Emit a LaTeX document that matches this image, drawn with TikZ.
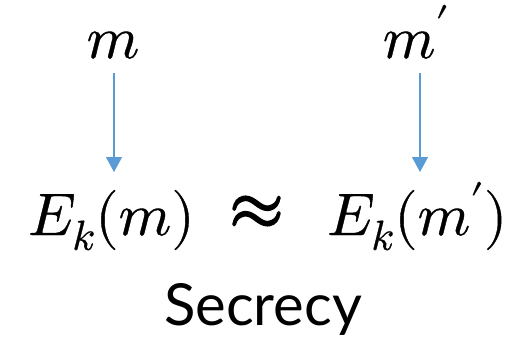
\documentclass[tikz,border=0pt]{standalone}
\usepackage{fontspec}
\usepackage{unicode-math}
\setmathfont[FakeBold=0.6]{Latin Modern Math}
\setmathfont[version=heavy,FakeBold=3]{Latin Modern Math}
\setsansfont{Lato}
\usetikzlibrary{arrows.meta}
\definecolor{arrowblue}{RGB}{91,155,213}
\begin{document}
\begin{tikzpicture}[x=1pt,y=-1pt,
  lbl/.style={inner sep=0pt,outer sep=0pt,font=\fontsize{60}{72}\selectfont},
  arr/.style={draw=arrowblue,line width=1.2pt,-{Triangle[width=16pt,length=15pt]}}]
\useasboundingbox (0,0) rectangle (519,338);
\node[lbl,anchor=base] (m) at (113,58) {$m$};
\node[lbl,anchor=base] (mp) at (416,58) {$m'$};
\node[lbl,anchor=base west] (Ekm) at (28,235) {$E_k(m)$};
\node[inner sep=0pt,outer sep=0pt,anchor=center,font={\mathversion{heavy}\fontsize{70}{80}\selectfont}] (approx) at (256.5,212.5) {$\approx$};
\node[lbl,anchor=base west] (Ekmp) at (327,235) {$E_k(m')$};
\node[inner sep=0pt,anchor=base,font=\sffamily\fontsize{58}{70}\selectfont] (sec) at (263,325) {Secrecy};
\coordinate (a1s) at (114,73);
\coordinate (a1e) at (114,172);
\coordinate (a2s) at (420,73);
\coordinate (a2e) at (420,172);
\draw[arr] (a1s) -- (a1e);
\draw[arr] (a2s) -- (a2e);
\end{tikzpicture}
\end{document}
